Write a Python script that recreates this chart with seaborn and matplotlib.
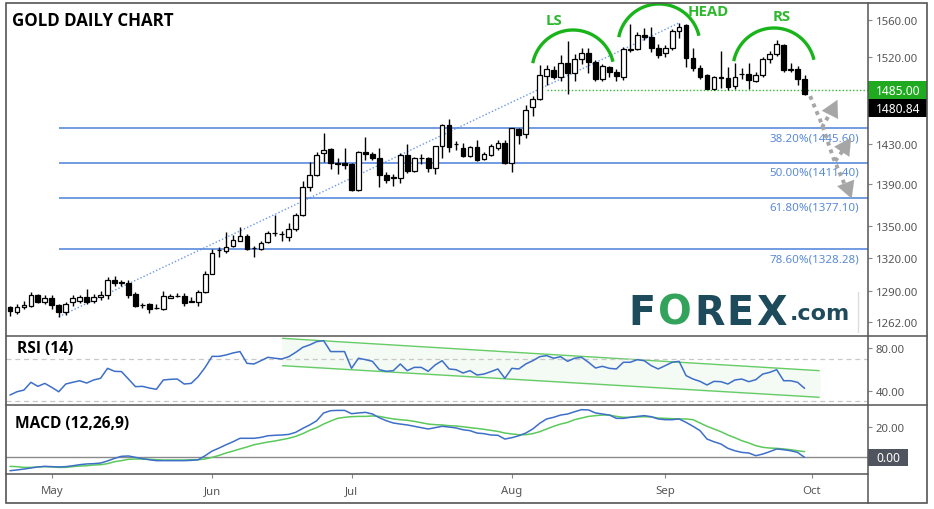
import numpy as np
import pandas as pd
import matplotlib
matplotlib.use("Agg")
import matplotlib.pyplot as plt
import seaborn as sns
from matplotlib import ticker
from matplotlib.lines import Line2D
from matplotlib.patches import Rectangle

# ---- data ----
dates = pd.bdate_range("2019-04-23", "2019-09-30")

opens = [1275, 1271, 1275, 1276.5, 1285.7, 1279.6, 1283, 1277.5, 1270.7, 1280,
         1281, 1284, 1280.5, 1284, 1286.5, 1300, 1297, 1297, 1287, 1277,
         1278, 1274, 1273.6, 1283.5, 1285, 1285, 1280, 1280, 1288.7, 1305.5,
         1327, 1326, 1331.5, 1336, 1340, 1329, 1328, 1335, 1343, 1342,
         1339.7, 1347.4, 1360, 1387.5, 1399, 1420.5, 1425, 1410, 1411, 1410,
         1384, 1422, 1419.5, 1416, 1399, 1397.5, 1396, 1419, 1403, 1415.5,
         1415.5, 1405.6, 1427.5, 1449, 1429.5, 1425.5, 1418, 1426.5, 1415, 1419,
         1425.5, 1430.5, 1411, 1444.7, 1440, 1467, 1475.8, 1500, 1506.3, 1498.3,
         1513.5, 1503, 1517.3, 1524, 1514.3, 1496.6, 1508.8, 1503.8, 1499, 1527,
         1528, 1543, 1541, 1530, 1524, 1530, 1548, 1554, 1519, 1508,
         1501, 1486.4, 1498, 1498, 1489, 1501.5, 1502, 1495, 1500.5, 1517.7,
         1523, 1532.5, 1506.5, 1507, 1497]
highs = [1276.5, 1278, 1281, 1288.7, 1287, 1286, 1286, 1278, 1279.9, 1285.7,
         1286.5, 1291.7, 1287, 1290, 1302, 1303, 1300, 1300, 1289, 1279,
         1278.5, 1278, 1290, 1287, 1288, 1288, 1284.5, 1291, 1308, 1328,
         1330, 1344, 1341, 1348.5, 1342, 1331.5, 1336, 1345, 1360, 1345,
         1353, 1362, 1393, 1412, 1422, 1440.6, 1426, 1416, 1425.5, 1411,
         1423, 1437, 1422, 1425.5, 1402, 1400, 1421, 1430, 1417, 1419.5,
         1417, 1428, 1450, 1455, 1432.5, 1430.5, 1428, 1434, 1422, 1430,
         1434, 1433.5, 1446.5, 1446.5, 1469.7, 1478.4, 1511.6, 1511.6, 1510, 1522,
         1537, 1523, 1529, 1530, 1517, 1512, 1510, 1507, 1531, 1555,
         1547, 1551, 1552, 1534, 1533, 1550, 1556.7, 1555, 1529.5, 1511,
         1502, 1500, 1526, 1509, 1513, 1508, 1513, 1504, 1520, 1526,
         1538, 1534, 1513, 1510, 1501]
lows = [1267, 1269, 1273.6, 1275, 1279, 1278, 1273.6, 1266.6, 1268, 1276.5,
        1279, 1278, 1279, 1282, 1282.6, 1294.6, 1294, 1283, 1275, 1274.5,
        1270, 1273.5, 1273, 1283, 1284.5, 1276.5, 1279.8, 1276, 1288, 1305,
        1321, 1325, 1330.5, 1336, 1327, 1321, 1327, 1334, 1340, 1336,
        1336, 1345, 1359, 1383, 1398, 1412, 1405, 1400, 1405, 1383,
        1383, 1414, 1414, 1387.6, 1391, 1388, 1391, 1401, 1402, 1410,
        1402, 1400, 1415.5, 1422, 1424, 1417, 1417, 1413, 1414, 1418,
        1424, 1410, 1401.6, 1429.4, 1436, 1457.8, 1474.8, 1490, 1497, 1494,
        1481, 1495, 1512, 1503, 1495, 1494, 1499, 1495, 1496, 1525,
        1527, 1538, 1525, 1519, 1520, 1527, 1540, 1509, 1504.6, 1497,
        1486, 1485.5, 1487, 1485.5, 1486, 1497, 1486, 1493, 1499, 1514,
        1521, 1504, 1504, 1490, 1480]
closes = [1272, 1275, 1277, 1285.7, 1279.6, 1283, 1277, 1270.7, 1278, 1283.5,
          1284, 1280, 1284, 1286.5, 1299.3, 1297, 1297.5, 1286.5, 1276.5, 1277.5,
          1273.6, 1274.5, 1285.6, 1285.6, 1285.3, 1279, 1280.3, 1288.7, 1305.5, 1325,
          1327.5, 1330.5, 1336.5, 1340, 1328.6, 1329.5, 1334, 1343.5, 1343.5, 1342.3,
          1347.4, 1360, 1387.5, 1399, 1419, 1424, 1410.5, 1410.5, 1409, 1384,
          1422, 1419.5, 1416, 1399.5, 1394.6, 1396, 1419, 1403, 1415.5, 1416,
          1406, 1427.5, 1449, 1426.5, 1430, 1418, 1426.5, 1414, 1420, 1428,
          1430.5, 1411, 1445.7, 1438.5, 1464, 1475.8, 1501, 1507, 1498.3, 1513,
          1502.5, 1517.7, 1524, 1514.3, 1496.6, 1509.8, 1503.8, 1499.3, 1528, 1528,
          1544, 1541, 1529.5, 1521.6, 1530, 1547.7, 1552, 1519, 1508, 1498.3,
          1486.4, 1498.3, 1498.5, 1488, 1499, 1502, 1496, 1500.5, 1517.7, 1523,
          1533.6, 1505.8, 1507, 1497, 1480.84]

rsi = [35.9, 39.0, 40.6, 47.9, 44.1, 46.9, 43.1, 39.0, 46.3, 47.9,
       49.4, 47.2, 50.1, 51.7, 61.1, 58.3, 58.0, 51.0, 43.8, 44.1,
       42.5, 41.3, 50.1, 50.7, 51.0, 46.3, 46.9, 53.2, 62.0, 72.4,
       72.4, 73.7, 75.6, 76.9, 65.8, 65.2, 68.3, 71.5, 70.6, 69.9,
       72.1, 76.2, 80.9, 83.2, 86.3, 87.2, 76.9, 76.9, 76.9, 61.1,
       70.6, 69.3, 67.7, 59.8, 58.3, 58.9, 65.2, 58.9, 62.0, 62.0,
       58.3, 64.3, 68.3, 60.5, 59.8, 56.7, 58.9, 54.8, 55.7, 58.0,
       60.5, 51.7, 61.1, 60.5, 65.2, 68.3, 72.1, 73.1, 70.6, 72.1,
       67.7, 70.6, 71.5, 66.8, 61.4, 63.0, 61.1, 60.5, 66.8, 66.8,
       69.3, 68.3, 63.6, 60.5, 63.6, 66.8, 67.7, 54.2, 51.0, 48.8,
       45.4, 48.8, 48.5, 46.3, 50.1, 51.0, 48.5, 50.4, 55.7, 57.3,
       59.8, 49.4, 49.4, 47.9, 42.2]
macd = [-8.9, -8.4, -7.8, -7.1, -6.4, -6.0, -6.2, -6.4, -6.2, -5.6,
        -4.9, -4.4, -4.2, -3.8, -2.4, -0.7, 0.7, 0.9, 0.0, -0.9,
        -1.6, -2.2, -2.2, -2.2, -2.2, -2.2, -2.0, -1.6, 1.1, 4.2,
        6.2, 8.4, 10.4, 12.7, 12.7, 12.7, 13.3, 14.4, 14.7, 14.9,
        15.3, 16.7, 19.3, 21.6, 24.4, 29.6, 31.1, 31.3, 31.3, 29.1,
        29.6, 30.0, 28.9, 26.4, 24.4, 22.9, 22.2, 21.6, 20.7, 19.8,
        18.9, 19.8, 20.7, 20.2, 19.6, 18.4, 17.8, 16.2, 15.8, 14.9,
        14.7, 12.2, 13.1, 14.4, 16.2, 18.9, 22.7, 25.6, 26.7, 28.2,
        28.9, 30.4, 31.8, 31.6, 29.6, 28.9, 28.2, 26.0, 26.0, 26.7,
        27.3, 27.8, 27.1, 25.6, 25.1, 25.1, 25.6, 23.3, 20.7, 17.8,
        12.2, 10.4, 8.9, 6.0, 4.4, 3.3, 2.9, 1.1, 2.2, 3.8,
        5.6, 5.1, 4.4, 3.3, 0.0]
signal = [-6.0, -6.2, -6.7, -6.7, -6.4, -6.2, -6.4, -6.7, -6.7, -6.2,
          -5.8, -5.6, -5.1, -4.9, -4.2, -2.9, -2.2, -1.3, -1.1, -1.1,
          -1.3, -1.6, -1.8, -1.8, -1.8, -1.8, -1.6, -1.6, -1.1, 0.0,
          1.3, 2.9, 4.2, 5.6, 6.9, 8.4, 9.3, 10.2, 10.9, 11.8,
          12.7, 14.0, 15.8, 18.0, 19.8, 22.2, 24.2, 26.0, 26.7, 27.1,
          27.3, 27.3, 27.6, 27.3, 26.4, 25.6, 25.1, 24.7, 24.0, 23.1,
          22.2, 21.8, 21.6, 21.1, 20.9, 20.4, 19.8, 19.3, 18.7, 18.0,
          17.3, 16.2, 15.6, 15.1, 15.1, 15.8, 17.1, 18.9, 20.7, 22.2,
          23.3, 25.1, 26.2, 27.3, 27.8, 28.2, 28.2, 27.3, 26.7, 26.7,
          26.9, 27.1, 26.9, 26.2, 26.0, 25.8, 25.6, 25.6, 25.1, 22.9,
          20.7, 18.9, 17.1, 14.9, 13.1, 11.1, 9.6, 7.8, 6.7, 6.2,
          6.0, 5.6, 5.1, 4.4, 3.8]

fib_levels = [1445.60, 1411.40, 1377.10, 1328.28]
fib_pcts = ["38.20%", "50.00%", "61.80%", "78.60%"]
neckline = 1485.00
last_price = 1480.84
price_ticks = [1262, 1290, 1320, 1350, 1390, 1430, 1520, 1560]
rsi_ticks = [40, 80]
rsi_bands = [30, 70]
macd_ticks = [20]
# RSI falling channel (bar position, value)
chan_x = [39.1, 116.1]
chan_upper = [89.4, 58.9]
chan_lower = [63.6, 33.8]
swing_low_bar, swing_high_bar = 7, 96
neck_start_bar = 77

# ---- figure layout in pixels ----
W, H = 934, 510
def fx(x):
    return np.asarray(x) / W
def fy(y):
    return 1 - np.asarray(y) / H

sns.set_style("white")
plt.rcParams["font.family"] = ["Noto Sans", "DejaVu Sans"]

BLUE = "#3d6fc8"
GREEN = "#5cc95c"
FIB = "#4a80da"
TXT = "#555555"
FRAME = "#555555"

fig = plt.figure(figsize=(W / 100, H / 100), dpi=100)
ax = fig.add_axes([fx(6), fy(337), 862 / W, 333 / H])
ax_rsi = fig.add_axes([fx(6), fy(406), 862 / W, 69 / H], sharex=ax)
ax_macd = fig.add_axes([fx(6), fy(475), 862 / W, 69 / H], sharex=ax)

n = len(closes)
x = np.arange(n)
o, h, l, c = map(np.array, (opens, highs, lows, closes))
xmax = 123.1

# ---- candles ----
ax.vlines(x, l, h, color="black", lw=1, zorder=2)
up = c >= o
bottom = np.minimum(o, c)
height = np.maximum(np.abs(c - o), 0.4)
ax.bar(x, height, bottom=bottom, width=0.68, color=np.where(up, "white", "black"),
       edgecolor="black", linewidth=0.9, zorder=3)

ax.set_yscale("log")
ax.set_ylim(1249.6, 1578.6)
ax.set_xlim(-0.57, xmax)

# trend line from swing low to top
ax.plot([swing_low_bar, swing_high_bar], [lows[swing_low_bar], highs[swing_high_bar]],
        ls=(0, (1, 1.5)), color="#6a98ec", lw=1, zorder=1)

# fibonacci retracements
for lev, pct in zip(fib_levels, fib_pcts):
    ax.hlines(lev, swing_low_bar, xmax, color=FIB, lw=1.1, zorder=1)
    ax.annotate(f"{pct}({lev:.2f})", xy=(121.8, lev), xytext=(0, -3), textcoords="offset points",
                ha="right", va="top", color="#5a8ad8", fontsize=8.3, zorder=4)

# neckline
ax.hlines(neckline, neck_start_bar, xmax, color="#33b833", lw=1, ls=(0, (1, 1.5)), zorder=1)

# projection arrows: down through the fib levels, bouncing at each
AR = "#a6a6a6"
DOT = dict(ls=(0, (1, 1.1)), color=AR, lw=2.8, zorder=4, solid_capstyle="butt")
HEAD = dict(arrowstyle="-|>,head_length=1.2,head_width=0.65", color=AR, lw=0.1)
ax.plot([114.8, 116.5, 118.1, 120.3], [1478.7, fib_levels[0] + 4, fib_levels[1] + 5, 1381], **DOT)
ax.plot([116.5, 118.3], [fib_levels[0] + 1, 1469], **DOT)
ax.plot([118.4, 120.3], [fib_levels[1] + 1.5, 1431], **DOT)
ax.annotate("", xy=(118.9, 1477.5), xytext=(118.1, 1466), arrowprops=HEAD, zorder=5)
ax.annotate("", xy=(120.9, 1438.5), xytext=(119.9, 1428), arrowprops=HEAD, zorder=5)
ax.annotate("", xy=(120.9, 1373.5), xytext=(120.2, 1386), arrowprops=HEAD, zorder=5)

# right-hand price axis
ax.yaxis.tick_right()
ax.yaxis.set_major_locator(ticker.FixedLocator(price_ticks))
ax.yaxis.set_major_formatter(ticker.FixedFormatter([f"{v:.2f}" for v in price_ticks]))
ax.yaxis.set_minor_locator(ticker.NullLocator())

# ---- RSI ----
ax_rsi.fill_between(chan_x, chan_lower, chan_upper, color="#f4faf4", zorder=0)
ax_rsi.plot(chan_x, chan_upper, color="#66cc66", lw=1)
ax_rsi.plot(chan_x, chan_lower, color="#66cc66", lw=1)
for b in rsi_bands:
    ax_rsi.axhline(b, color="#c8c8c8", lw=0.9, ls=(0, (4, 3)))
sns.lineplot(x=x, y=rsi, ax=ax_rsi, color=BLUE, lw=1.1)
ax_rsi.set_ylim(26.5, 91.6)
ax_rsi.yaxis.tick_right()
ax_rsi.set_yticks(rsi_ticks)
ax_rsi.set_yticklabels([f"{v:.2f}" for v in rsi_ticks])

# ---- MACD ----
ax_macd.axhline(0, color="#8a8a8a", lw=1)
sns.lineplot(x=x, y=signal, ax=ax_macd, color=GREEN, lw=1.1)
sns.lineplot(x=x, y=macd, ax=ax_macd, color=BLUE, lw=1.1)
ax_macd.set_ylim(-11.1, 34.9)
ax_macd.yaxis.tick_right()
ax_macd.set_yticks(macd_ticks)
ax_macd.set_yticklabels([f"{v:.2f}" for v in macd_ticks])

# month ticks at the first bar of each month
month_pos = [i for i in range(1, n) if dates[i].month != dates[i - 1].month] + [n]
month_lab = [dates[i].strftime("%b") for i in month_pos[:-1]] + ["Oct"]
ax_macd.set_xticks(month_pos)
ax_macd.set_xticklabels(month_lab)

for a in (ax, ax_rsi, ax_macd):
    for s in a.spines.values():
        s.set_visible(False)
    a.set_xlabel("")
    a.set_ylabel("")
    a.tick_params(axis="y", right=True, left=False, length=3, width=0.8, color="#888888",
                  labelcolor=TXT, labelsize=8.2, pad=2.5)
    a.set_facecolor("none")
for a in (ax, ax_rsi):
    a.tick_params(axis="x", bottom=False, labelbottom=False)
ax_macd.tick_params(axis="x", bottom=True, length=3, width=0.8, color="#888888",
                    labelcolor=TXT, labelsize=8.2, pad=5)

# ---- value boxes on the right axis ----
fig.canvas.draw()
renderer = fig.canvas.get_renderer()
def data_to_px(a, yv):
    return H - a.transData.transform((0, yv))[1]

y_neck = data_to_px(ax, neckline)
fig.patches.append(Rectangle((fx(868), fy(y_neck + 9)), 59 / W, 18 / H, transform=fig.transFigure,
                             facecolor="#1faa1f", edgecolor="none", zorder=5))
fig.text(fx(876), fy(y_neck), f"{neckline:.2f}", color="white", fontsize=8.6, va="center", zorder=6)
fig.patches.append(Rectangle((fx(868), fy(y_neck + 27)), 59 / W, 18 / H, transform=fig.transFigure,
                             facecolor="black", edgecolor="none", zorder=5))
fig.text(fx(876), fy(y_neck + 18), f"{last_price:.2f}", color="white", fontsize=8.6, va="center", zorder=6)

y_zero = data_to_px(ax_macd, 0)
fig.patches.append(Rectangle((fx(868), fy(y_zero + 8.5)), 40 / W, 17 / H, transform=fig.transFigure,
                             facecolor="#50545f", edgecolor="none", zorder=5))
fig.text(fx(876), fy(y_zero), "0.00", color="white", fontsize=8.6, va="center", zorder=6)

# ---- head & shoulders arcs ----
ARC = "#19b419"
t = np.radians(np.linspace(13, 169, 60))
for cx, cy in [(573, 72), (659, 46), (774, 70)]:
    xs = cx + 41 * np.cos(t)
    ys = cy - 41 * np.sin(t)
    fig.lines.append(Line2D(fx(xs), fy(ys), transform=fig.transFigure, color=ARC, lw=2.4,
                            solid_capstyle="butt"))
for label, px, py in [("LS", 554, 21), ("HEAD", 708, 12), ("RS", 782, 17)]:
    fig.text(fx(px), fy(py), label, color="#2db82d", fontsize=10.7, fontweight="bold",
             family=["Open Sans", "DejaVu Sans"], ha="center", va="center")

# ---- titles ----
fig.text(fx(12), fy(21.5), "GOLD DAILY CHART", fontsize=12.2, fontweight="bold", color="black",
         family=["Open Sans", "DejaVu Sans"], va="center")
fig.text(fx(17), fy(349), "RSI (14)", fontsize=11.2, fontweight="bold", color="black",
         family=["Open Sans", "DejaVu Sans"], va="center")
fig.text(fx(15), fy(424), "MACD (12,26,9)", fontsize=11.2, fontweight="bold", color="black",
         family=["Open Sans", "DejaVu Sans"], va="center")

# ---- FOREX.com logo, letters set one by one ----
LOGO = "#1d4b5b"
xpos = 628
for ch, col in [("F", LOGO), ("O", "#33a25a"), ("R", LOGO), ("E", LOGO), ("X", LOGO)]:
    tx = fig.text(fx(xpos), fy(325), ch, color=col, fontsize=28.5, fontweight="bold",
                  va="baseline", family="DejaVu Sans")
    xpos += tx.get_window_extent(renderer).width + 2.5
fig.text(fx(790), fy(320), ".com", color=LOGO, fontsize=16, fontweight="bold", va="baseline",
         family="DejaVu Sans")
fig.lines.append(Line2D([fx(858), fx(858)], [fy(293), fy(333)], transform=fig.transFigure,
                        color="#dddddd", lw=1))

# ---- frame and panel separators ----
fig.patches.append(Rectangle((fx(6), fy(504)), 921 / W, 500 / H, transform=fig.transFigure,
                             facecolor="none", edgecolor=FRAME, lw=1.2, zorder=10))
for yy, x1 in [(337, 927), (406, 927), (475, 868)]:
    fig.lines.append(Line2D([fx(6), fx(x1)], [fy(yy), fy(yy)], transform=fig.transFigure,
                            color=FRAME, lw=1.1, zorder=10))
fig.lines.append(Line2D([fx(868), fx(868)], [fy(4), fy(504)], transform=fig.transFigure,
                        color=FRAME, lw=1.1, zorder=10))

fig.savefig("out.png", dpi=100)
